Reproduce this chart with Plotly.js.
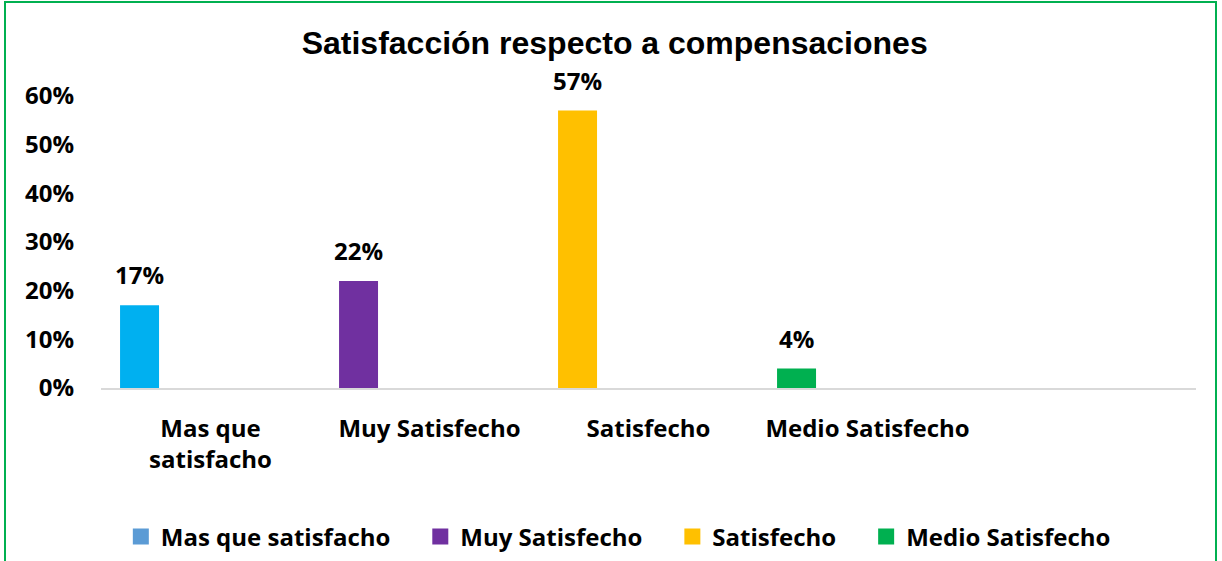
<!DOCTYPE html>
<html>
<head>
<meta charset="utf-8">
<script src="https://cdn.plot.ly/plotly-3.0.1.min.js"></script>
<style>
html,body{margin:0;padding:0;background:#fff;overflow:hidden;}
#chart{width:1222px;height:561px;position:absolute;left:0;top:0;}
#frame{position:absolute;left:4px;top:1px;width:1213px;height:600px;border:2px solid #00B050;pointer-events:none;box-sizing:border-box;}
</style>
</head>
<body>
<div id="chart"></div>
<div id="frame"></div>
<script>
const categories = ['Mas que<br>satisfacho', 'Muy Satisfecho', 'Satisfecho', 'Medio Satisfecho', ''];
const seriesNames = ['Mas que satisfacho', 'Muy Satisfecho', 'Satisfecho', 'Medio Satisfecho'];
const values = [0.17, 0.22, 0.57, 0.04];
const valueLabels = ['17%', '22%', '57%', '4%'];
const barColors = ['#00B0F0', '#7030A0', '#FFC000', '#00B050'];
const legendColors = ['#5B9BD5', '#7030A0', '#FFC000', '#00B050'];
const yTicks = [0, 0.1, 0.2, 0.3, 0.4, 0.5, 0.6];

const BAR_W = 0.178;
const BAR_OFF = -0.413;
const FONT = '"Open Sans", "Noto Sans", sans-serif';
const FS = 24;
const PAD = '\u00a0\u00a0\u00a0\u00a0';

const traces = [];
seriesNames.forEach((name, i) => {
  traces.push({
    type: 'scatter', mode: 'markers', name: name + (i < seriesNames.length - 1 ? PAD : ''),
    x: [null], y: [null],
    marker: {color: legendColors[i], symbol: 'square', size: 16},
    showlegend: true, hoverinfo: 'skip'
  });
});
seriesNames.forEach((name, i) => {
  traces.push({
    type: 'bar', name: name, x: [i], y: [values[i]],
    width: BAR_W, offset: BAR_OFF,
    marker: {color: barColors[i], line: {width: 0}},
    showlegend: false
  });
});

const annotations = values.map((v, i) => ({
  x: i + BAR_OFF + BAR_W / 2, y: v, xref: 'x', yref: 'y',
  text: valueLabels[i], showarrow: false, yanchor: 'bottom', yshift: 12,
  font: {family: FONT, size: FS, color: '#000', weight: 'bold'}
}));

const layout = {
  width: 1222, height: 561,
  margin: {l: 101, r: 26, t: 96, b: 173, autoexpand: false},
  paper_bgcolor: '#fff', plot_bgcolor: '#fff',
  barmode: 'overlay',
  title: {
    text: '<b>Satisfacción respecto a compensaciones</b>',
    font: {family: '"Liberation Sans", Arial, sans-serif', size: 32, color: '#000'},
    x: 0.503, xanchor: 'center', yref: 'container', y: 1 - 43 / 561, yanchor: 'middle'
  },
  xaxis: {
    range: [-0.5, 4.5], tickmode: 'array', tickvals: [0, 1, 2, 3, 4], ticktext: categories,
    showgrid: false, zeroline: false, showline: true, linecolor: '#D9D9D9', linewidth: 2,
    ticks: 'outside', ticklen: 18, tickcolor: 'rgba(0,0,0,0)',
    tickfont: {family: FONT, size: FS, color: '#000', weight: 'bold'},
    fixedrange: true, automargin: false
  },
  yaxis: {
    range: [0, 0.6], tickmode: 'array', tickvals: yTicks, tickformat: '.0%',
    showgrid: false, zeroline: false, showline: false,
    ticks: 'outside', ticklen: 21, tickcolor: 'rgba(0,0,0,0)',
    tickfont: {family: FONT, size: FS, color: '#000', weight: 'bold'},
    fixedrange: true, automargin: false
  },
  legend: {
    orientation: 'h', x: 0.506, xanchor: 'center', xref: 'container',
    yref: 'container', y: 1 - 537 / 561, yanchor: 'middle',
    font: {family: FONT, size: FS, color: '#000', weight: 'bold'},
    itemsizing: 'trace', traceorder: 'normal'
  },
  annotations: annotations,
  showlegend: true
};

Plotly.newPlot('chart', traces, layout, {displayModeBar: false, staticPlot: true});
</script>
</body>
</html>
